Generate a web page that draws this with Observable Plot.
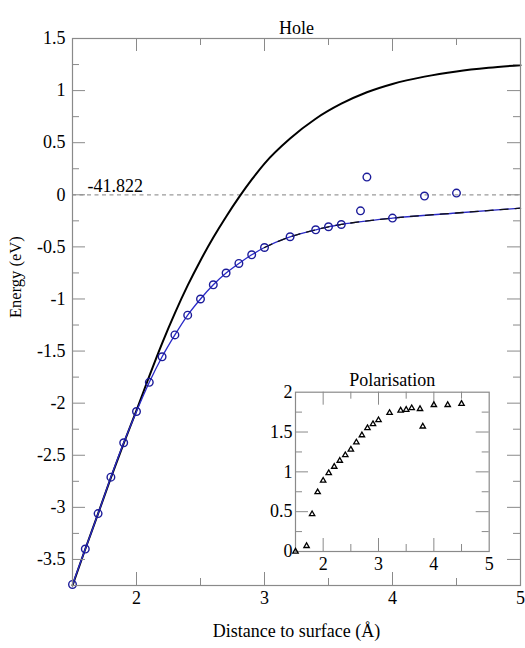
<!DOCTYPE html>
<html><head><meta charset="utf-8">
<script src="https://cdn.jsdelivr.net/npm/d3@7"></script>
<script src="https://cdn.jsdelivr.net/npm/@observablehq/plot@0.6"></script>
<style>
html,body{margin:0;padding:0;background:#fff;}
#wrap{position:relative;width:525px;height:648px;overflow:hidden;}
#inset{position:absolute;left:240px;top:355px;}
</style></head><body><div id="wrap"></div>
<script>
// ---- data ----
const holeX = [1.5,1.6,1.7,1.8,1.9,2.0,2.1,2.2,2.3,2.4,2.5,2.6,2.7,2.8,2.9,3.0,3.2,3.4,3.5,3.6,3.75,3.8,4.0,4.25,4.5];
const holeE = [-3.74,-3.40,-3.06,-2.71,-2.38,-2.08,-1.80,-1.555,-1.345,-1.155,-1.00,-0.864,-0.751,-0.659,-0.576,-0.506,-0.403,-0.336,-0.307,-0.285,-0.154,0.170,-0.224,-0.012,0.016];
const fitX = [1.5,1.6,1.7,1.8,1.9,2.0,2.1,2.2,2.3,2.4,2.5,2.6,2.7,2.8,2.9,3.0,3.2,3.4,3.5,3.6,4.0,4.5,5.0];
const fitE = [-3.74,-3.40,-3.06,-2.71,-2.38,-2.08,-1.80,-1.555,-1.345,-1.155,-1.00,-0.864,-0.751,-0.659,-0.576,-0.506,-0.403,-0.336,-0.307,-0.285,-0.224,-0.175,-0.128];
const imageX = [1.5,1.6,1.7,1.8,1.9,2.0,2.1,2.2,2.3,2.4,2.5,2.6,2.7,2.8,2.9,3.0,3.2,3.4,3.6,3.8,4.0,4.25,4.5,4.75,5.0];
const imageE = [-3.75,-3.40,-3.06,-2.715,-2.385,-2.07,-1.74,-1.425,-1.135,-0.87,-0.63,-0.41,-0.21,-0.025,0.145,0.30,0.54,0.73,0.874,0.984,1.064,1.134,1.184,1.219,1.244];
const polX = [1.5,1.7,1.8,1.9,2.0,2.1,2.2,2.3,2.4,2.5,2.6,2.7,2.8,2.9,3.0,3.2,3.4,3.5,3.6,3.75,3.8,4.0,4.25,4.5];
const polY = [0.0,0.07,0.47,0.745,0.89,0.985,1.065,1.14,1.21,1.28,1.37,1.46,1.55,1.60,1.65,1.74,1.77,1.78,1.80,1.79,1.57,1.84,1.84,1.855];
const refLevel = [0];
const refLabel = "-41.822";
const mainTitle = "Hole";
const insetTitle = "Polarisation";
const xLabel = "Distance to surface (Å)";
const yLabel = "Energy (eV)";
const xTickLabels = [2,3,4,5];
const xMinorTicks = [2.5,3.5,4.5];
const yTickLabels = [-3.5,-3,-2.5,-2,-1.5,-1,-0.5,0,0.5,1,1.5];
const yMinorTicks = [-3.25,-2.75,-2.25,-1.75,-1.25,-0.75,-0.25,0.25,0.75,1.25];
const insetXTickLabels = [2,3,4,5];
const insetXMajor = [2,3,4];
const insetXMinor = [2.5,3.5,4.5];
const insetYTickLabels = [0,0.5,1,1.5,2];
const insetYMajor = [0.5,1,1.5];
const insetYMinor = [0.25,0.75,1.25,1.75];

const holePts = holeX.map((x,i)=>({x, y: holeE[i]}));
const fitPts = fitX.map((x,i)=>({x, y: fitE[i]}));
const imagePts = imageX.map((x,i)=>({x, y: imageE[i]}));
const polPts = polX.map((x,i)=>({x, y: polY[i]}));

const GRAY = "#8a8a8a";
const FONT = "'Liberation Serif', 'Times New Roman', serif";
const W = 525, H = 648, mT = 38, mB = 63, mL = 72, mR = 5;
const pH = H - mT - mB, pW = W - mL - mR;
const MAJ = 13, MIN = 7;

const fmt = d => String(d);

function ticks(xMaj, xMin, yMaj, yMin, pw, ph, maj, mn) {
  const o = {stroke: GRAY, strokeWidth: 1};
  return [
    Plot.tickX(xMaj, {...o, x: d=>d, insetTop: ph - maj}),
    Plot.tickX(xMaj, {...o, x: d=>d, insetBottom: ph - maj}),
    Plot.tickX(xMin, {...o, x: d=>d, insetTop: ph - mn}),
    Plot.tickX(xMin, {...o, x: d=>d, insetBottom: ph - mn}),
    Plot.tickY(yMaj, {...o, y: d=>d, insetRight: pw - maj}),
    Plot.tickY(yMaj, {...o, y: d=>d, insetLeft: pw - maj}),
    Plot.tickY(yMin, {...o, y: d=>d, insetRight: pw - mn}),
    Plot.tickY(yMin, {...o, y: d=>d, insetLeft: pw - mn})
  ];
}

const main = Plot.plot({
  width: W, height: H,
  marginTop: mT, marginBottom: mB, marginLeft: mL, marginRight: mR,
  style: {fontFamily: FONT, fontSize: "18px", color: "#000", background: "white"},
  x: {domain: [1.5, 5], label: null},
  y: {domain: [-3.75, 1.5], label: null},
  marks: [
    Plot.ruleY(refLevel, {stroke: "#9a9a9a", strokeWidth: 1.2, strokeDasharray: "4,3.5"}),
    Plot.text(refLevel, {y: d=>d, frameAnchor: "left", text: () => refLabel, textAnchor: "start", dx: 15, dy: -9, fontSize: 18}),
    Plot.line(imagePts, {x: "x", y: "y", stroke: "#000", strokeWidth: 2, curve: "monotone-x"}),
    Plot.line(fitPts, {x: "x", y: "y", stroke: "#2a2ac8", strokeWidth: 1.3, curve: "monotone-x"}),
    Plot.line(fitPts.filter(d => d.x >= 3.0), {x: "x", y: "y", stroke: "#111", strokeWidth: 1.3, strokeDasharray: "8,7", curve: "monotone-x"}),
    Plot.dot(holePts, {x: "x", y: "y", r: 3.8, stroke: "#1c1c9a", strokeWidth: 1.4, fill: "none"}),
    Plot.frame({stroke: GRAY, strokeWidth: 1.2}),
    ...ticks(xTickLabels, xMinorTicks, yTickLabels, yMinorTicks, pW, pH, MAJ, MIN),
    Plot.axisX(xTickLabels, {tickSize: 0, tickPadding: 6, tickFormat: fmt, fontSize: 18, label: null}),
    Plot.axisY(yTickLabels, {tickSize: 0, tickPadding: 7, tickFormat: fmt, fontSize: 18, label: null}),
    Plot.text([mainTitle], {frameAnchor: "top", text: d=>d, dy: -17, fontSize: 18}),
    Plot.text([xLabel], {frameAnchor: "bottom", text: d=>d, dy: 51, fontSize: 18}),
    Plot.text([yLabel], {frameAnchor: "left", text: d=>d, rotate: -90, dx: -57, dy: 6, fontSize: 16.5})
  ]
});

const iW = 260, iH = 220, imL = 55, imT = 36.7, imR = 11.3, imB = 24;
const inset = Plot.plot({
  width: iW, height: iH,
  marginTop: imT, marginBottom: imB, marginLeft: imL, marginRight: imR,
  style: {fontFamily: FONT, fontSize: "18px", color: "#000", background: "transparent", overflow: "visible"},
  x: {domain: [1.5, 5], label: null},
  y: {domain: [0, 2], label: null},
  marks: [
    Plot.frame({fill: "white", stroke: GRAY, strokeWidth: 1.2}),
    ...ticks(insetXMajor, insetXMinor, insetYMajor, insetYMinor, iW - imL - imR, iH - imT - imB, MAJ, MIN),
    Plot.dot(polPts, {x: "x", y: "y", symbol: "triangle", r: 2.0, stroke: "#000", strokeWidth: 1.3, fill: "none"}),
    Plot.axisX(insetXTickLabels, {tickSize: 0, tickPadding: 6, tickFormat: fmt, fontSize: 18, label: null}),
    Plot.axisY(insetYTickLabels, {tickSize: 0, tickPadding: 3, tickFormat: fmt, fontSize: 18, label: null}),
    Plot.text([insetTitle], {frameAnchor: "top", text: d=>d, dy: -19, fontSize: 18})
  ]
});
inset.id = "inset";
const wrap = document.getElementById("wrap");
wrap.appendChild(main);
wrap.appendChild(inset);
</script></body></html>
